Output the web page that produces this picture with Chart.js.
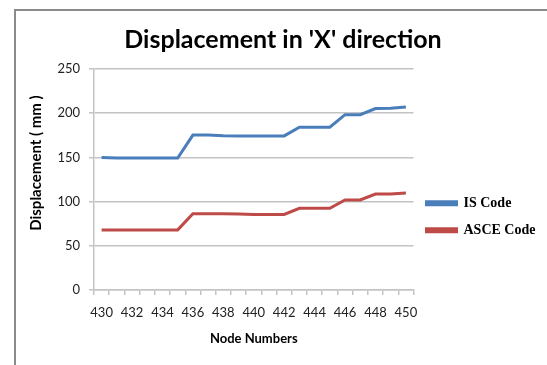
<!DOCTYPE html>
<html>
<head>
<meta charset="utf-8">
<script src="https://cdn.jsdelivr.net/npm/chart.js@4.4.0/dist/chart.umd.min.js"></script>
<style>
  body { margin: 0; background: #fff; overflow: hidden; }
  .frame { position: absolute; left: 14px; top: 9px; width: 600px; height: 400px; border: 2px solid #8a8a8a; }
  #chart { position: absolute; left: 0; top: 0; }
</style>
</head>
<body>
<div class="frame"></div>
<canvas id="chart" width="547" height="365"></canvas>
<script>
const nodeNumbers = ['430', '431', '432', '433', '434', '435', '436', '437', '438', '439', '440',
                     '441', '442', '443', '444', '445', '446', '447', '448', '449', '450'];
const isCode = [150, 149.3, 149.3, 149.3, 149.3, 149.3, 175.2, 175.2, 174.5, 174.3, 174.3,
                174.3, 174.3, 184.2, 184.2, 184.2, 198.3, 198.3, 205.2, 205.5, 207];
const asceCode = [68, 68, 68, 68, 68, 68, 86.3, 86.3, 86.3, 86, 85.4,
                  85.4, 85.4, 92.4, 92.4, 92.4, 101.8, 101.8, 108.6, 108.7, 109.8];
const yTicks = [0, 50, 100, 150, 200, 250];

const gridColor = '#c4c4c4';
const sans = 'Lato, "Open Sans", sans-serif';

const ctx = document.getElementById('chart').getContext('2d');
const chart = new Chart(ctx, {
    type: 'line',
    data: {
        labels: nodeNumbers,
        datasets: [
            { label: 'IS Code', data: isCode, borderColor: '#4a7ebb', backgroundColor: '#4a7ebb', borderWidth: 3, pointRadius: 0, tension: 0 },
            { label: 'ASCE Code', data: asceCode, borderColor: '#be4b48', backgroundColor: '#be4b48', borderWidth: 3, pointRadius: 0, tension: 0 }
        ]
    },
    options: {
        responsive: false,
        animation: false,
        devicePixelRatio: 1,
        layout: { padding: { left: 22, top: 10, right: 3, bottom: 10 } },
        plugins: {
            title: {
                display: true,
                text: "Displacement in 'X' direction",
                color: '#000',
                font: { family: sans, size: 25, weight: 'bold' },
                padding: { top: 15, bottom: 14 }
            },
            legend: {
                position: 'right',
                align: 'center',
                title: { display: true, text: '', font: { size: 12 }, padding: { top: 54, bottom: 0 } },
                labels: {
                    boxWidth: 30,
                    boxHeight: 3,
                    padding: 13,
                    color: '#000',
                    font: { family: '"Liberation Serif", "Times New Roman", serif', size: 14, weight: 'bold' }
                }
            },
            tooltip: { enabled: false }
        },
        scales: {
            x: {
                offset: true,
                afterFit: scale => { scale.height = 65; },
                grid: { offset: true, drawOnChartArea: false, drawTicks: true, tickLength: 5, color: gridColor, lineWidth: 1.5 },
                border: { color: gridColor, width: 1.5 },
                ticks: {
                    autoSkip: false,
                    maxRotation: 0,
                    padding: 10,
                    color: '#222',
                    font: { family: sans, size: 13 },
                    callback: function (value, index) {
                        return index % 2 === 0 ? this.getLabelForValue(value) : '';
                    }
                },
                title: {
                    display: true,
                    text: 'Node Numbers',
                    color: '#000',
                    font: { family: sans, size: 13, weight: 'bold' },
                    padding: { top: 0, bottom: 8 }
                }
            },
            y: {
                min: yTicks[0],
                max: yTicks[yTicks.length - 1],
                afterFit: scale => { scale.width = 72; },
                afterBuildTicks: scale => { scale.ticks = yTicks.map(v => ({ value: v })); },
                grid: { color: gridColor, lineWidth: 1.5, tickLength: 5 },
                border: { color: gridColor, width: 1.5 },
                ticks: { padding: 9, color: '#222', font: { family: sans, size: 13 } },
                title: {
                    display: true,
                    // leading spaces push the rotated text up a little, as in the original
                    text: '\u00a0\u00a0\u00a0\u00a0\u00a0\u00a0\u00a0\u00a0\u00a0Displacement ( mm )',
                    color: '#000',
                    font: { family: sans, size: 15, weight: 'bold' },
                    padding: { top: 5, bottom: 0 }
                }
            }
        }
    }
});
</script>
</body>
</html>
